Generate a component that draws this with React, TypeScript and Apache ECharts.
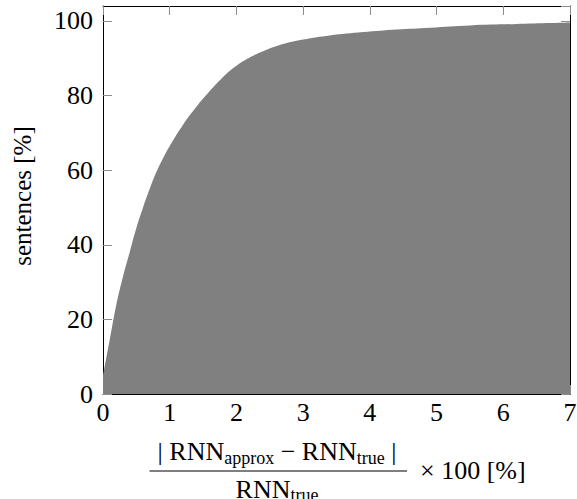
import React, { useEffect, useRef } from "react";
import * as echarts from "echarts";

// relative error [%] (x) vs cumulative share of sentences [%] (y)
const relErrorPct = [0, 0.1, 0.2, 0.3, 0.4, 0.5, 0.6, 0.7, 0.8, 0.9, 1.0, 1.2, 1.4, 1.6, 1.8, 2.0, 2.2, 2.4, 2.7, 3.0, 3.4, 3.9, 4.4, 4.9, 5.5, 6.2, 7.0];
const sentencesPct = [5, 14.5, 24, 31.5, 38, 44.5, 50, 55, 59.5, 63.2, 66.5, 72.2, 77, 81.2, 85, 88, 90.2, 91.9, 93.8, 95, 96.1, 97.0, 97.7, 98.2, 98.8, 99.2, 99.6];

const xMin = 0;
const xMax = 7;
const xStep = 1;
const yMin = 0;
const yMax = 104;
const yStep = 20;

const yTitle = "sentences [%]";
const numerText = "| RNN{s|approx} − RNN{s|true} |";
const denomText = "RNN{s|true}";
const factorText = "× 100 [%]";

const FONT = "Liberation Serif, Times New Roman, serif";

export default function App() {
  const ref = useRef<HTMLDivElement>(null);
  useEffect(() => {
    document.body.style.margin = "0";
    const chart = echarts.init(ref.current!, null, { renderer: "svg" });
    const data = relErrorPct.map((x, i) => [x, sentencesPct[i]]);
    const tickStyle = { show: true, inside: true, length: 9, lineStyle: { color: "#8c8c8c", width: 1 } };
    const lineStyle = { show: true, onZero: false, lineStyle: { color: "#000", width: 1 } };
    const labelBase = { fontFamily: FONT, fontSize: 26, color: "#000" };
    const richSub = {
      s: { fontFamily: FONT, fontSize: 18, color: "#000", verticalAlign: "bottom", lineHeight: 21 },
    };
    chart.setOption({
      animation: false,
      grid: { left: 103, right: 7, top: 6, bottom: 105, containLabel: false, outerBoundsMode: "none" },
      xAxis: [
        {
          type: "value", min: xMin, max: xMax, interval: xStep, position: "bottom",
          axisLine: lineStyle, axisTick: tickStyle, splitLine: { show: false },
          axisLabel: { ...labelBase, margin: 5 },
        },
        {
          type: "value", min: xMin, max: xMax, interval: xStep, position: "top",
          axisLine: lineStyle, axisTick: tickStyle, splitLine: { show: false },
          axisLabel: { show: false },
        },
      ],
      yAxis: [
        {
          type: "value", min: yMin, max: yMax, interval: yStep, position: "left",
          axisLine: lineStyle, axisTick: tickStyle, splitLine: { show: false },
          axisLabel: { ...labelBase, margin: 10, showMaxLabel: false },
        },
        {
          type: "value", min: yMin, max: yMax, interval: yStep, position: "right",
          axisLine: lineStyle, axisTick: tickStyle, splitLine: { show: false },
          axisLabel: { show: false },
        },
      ],
      series: [
        {
          type: "line",
          data,
          xAxisIndex: 0,
          yAxisIndex: 0,
          smooth: 0.4,
          showSymbol: false,
          symbol: "none",
          lineStyle: { width: 0, color: "#808080" },
          areaStyle: { color: "#808080", opacity: 1 },
          itemStyle: { color: "#808080" },
          z: 2,
        },
      ],
      graphic: [
        {
          type: "text", x: 22, y: 196, rotation: Math.PI / 2,
          style: { text: yTitle, font: `25px ${FONT}`, fill: "#000", align: "center", verticalAlign: "middle" },
        },
        {
          type: "text", x: 277, y: 451.5,
          style: {
            text: numerText, fontFamily: FONT, fontSize: 26, lineHeight: 30, fill: "#000",
            align: "center", verticalAlign: "middle", rich: richSub,
          },
        },
        {
          type: "line",
          shape: { x1: 149.5, y1: 471, x2: 407, y2: 471 },
          style: { stroke: "#000", lineWidth: 1 },
        },
        {
          type: "text", x: 277, y: 489,
          style: {
            text: denomText, fontFamily: FONT, fontSize: 26, lineHeight: 30, fill: "#000",
            align: "center", verticalAlign: "middle", rich: richSub,
          },
        },
        {
          type: "text", x: 420, y: 470,
          style: { text: factorText, font: `26px ${FONT}`, fill: "#000", align: "left", verticalAlign: "middle" },
        },
      ],
    });
    return () => chart.dispose();
  }, []);
  return <div ref={ref} style={{ position: "absolute", left: 0, top: 0, width: 577, height: 499 }} />;
}
